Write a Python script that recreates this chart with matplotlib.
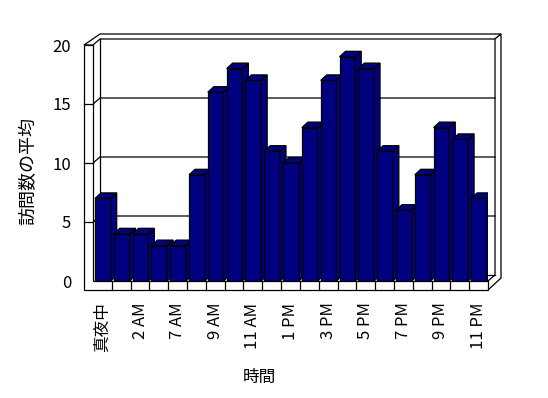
import matplotlib
matplotlib.use("Agg")
import matplotlib.pyplot as plt

plt.rcParams['font.family'] = ['Noto Sans CJK JP', 'DejaVu Sans']

# ================================
# DATA
# ================================
hours = ['真夜中', '1 AM', '2 AM', '6 AM', '7 AM', '8 AM', '9 AM', '10 AM', '11 AM', '正午',
         '1 PM', '2 PM', '3 PM', '4 PM', '5 PM', '6 PM', '7 PM', '8 PM', '9 PM', '10 PM', '11 PM']
avg_visits = [7, 4, 4, 3, 3, 9, 16, 18, 17, 11, 10, 13, 17, 19, 18, 11, 6, 9, 13, 12, 7]
y_ticks = [0, 5, 10, 15, 20]

NAVY = '#000080'
W, H = 548, 398

# front plane of the pseudo-3D plot, in pixels
left, right, bottom, top = 93, 488, 281, 45
n = len(hours)
CX = (right - left) / n        # px per category
CY = (bottom - top) / 20       # px per value unit


def P(x, y, ox=0, oy=0):
    # data point with a pixel offset (ox right, oy up)
    return (x + ox / CX, y + oy / CY)


fig = plt.figure(figsize=(W / 100, H / 100), dpi=100)
ax = fig.add_axes([left / W, 1 - bottom / H, (right - left) / W, (bottom - top) / H])
ax.set_xlim(0, n)
ax.set_ylim(0, 20)
for s in ax.spines.values():
    s.set_visible(False)

lw = 0.9
kw = dict(clip_on=False, color='black', lw=lw)

# ================================
# WALLS / FLOOR
# ================================
# back wall top face
ax.fill(*zip(P(0, 20, -9, 0), P(0, 20, 7, 11), P(n, 20, 13, 11), P(n, 20, 7, 6),
             P(0, 20, 7, 6), P(0, 20)), facecolor='white', edgecolor='black', lw=lw,
        clip_on=False, zorder=2)
# right side of back wall + floor
ax.fill(*zip(P(n, 20, 7, 6), P(n, 20, 13, 11), P(n, 0, 13, 3), P(n, 0, 0, -9),
             P(n, 0), P(n, 0, 7, 6)), facecolor='white', edgecolor='black', lw=lw,
        clip_on=False, zorder=2)
# back wall inner edges
ax.plot(*zip(P(0, 0, 7, 6), P(0, 20, 7, 6)), zorder=2, **kw)
ax.plot(*zip(P(0, 0, 7, 6), P(n, 0, 7, 6)), zorder=2, **kw)
# gridlines on back wall
for v in y_ticks[1:-1]:
    ax.plot(*zip(P(0, v), P(0, v, 7, 6), P(n, v, 7, 6)), zorder=2, **kw)

# left wall + floor front faces (L shape)
ax.fill(*zip(P(0, 20, -9, 0), P(0, 20), P(0, 0), P(n, 0), P(n, 0, 0, -9), P(0, 0, -9, -9)),
        facecolor='white', edgecolor='black', lw=lw, clip_on=False, zorder=3)
# y ticks across left wall front
for v in y_ticks[1:-1]:
    ax.plot(*zip(P(0, v, -9, 0), P(0, v)), zorder=4, **kw)
# category ticks on floor front
for i in range(1, n):
    ax.plot(*zip(P(i, 0), P(i, 0, 0, -9)), zorder=4, **kw)

# ================================
# BARS
# ================================
x0 = [i + 2 / CX for i in range(n)]
bw = 15.7 / CX
bars = ax.bar(x0, avg_visits, width=bw, align='edge', color=NAVY,
              edgecolor='black', linewidth=lw)
dx, dy = 6, 5.5
for i, (b, v) in enumerate(zip(bars, avg_visits)):
    b.set_zorder(10 + i)
    xr = x0[i] + bw
    side = [P(xr, 0), P(xr, v), P(xr, v, dx, dy), P(xr, 0, dx, dy)]
    topf = [P(x0[i], v), P(xr, v), P(xr, v, dx, dy), P(x0[i], v, dx, dy)]
    ax.fill(*zip(*side), facecolor=NAVY, edgecolor='black', lw=lw, zorder=10 + i)
    ax.fill(*zip(*topf), facecolor=NAVY, edgecolor='black', lw=lw, zorder=10 + i)

# ================================
# LABELS
# ================================
ax.set_yticks(y_ticks)
ax.set_yticklabels([str(v) for v in y_ticks], fontsize=12)
ax.set_xticks([i + 0.5 for i in range(0, n, 2)])
ax.set_xticklabels(hours[::2], rotation=90, fontsize=12, va='top')
ax.tick_params(axis='y', length=0, pad=15.8)
ax.tick_params(axis='x', length=0, pad=15.5)

fig.text(28 / W, 1 - 171 / H, '訪問数の平均', rotation=90, ha='center', va='center', fontsize=13)
fig.text(259 / W, 1 - 377 / H, '時間', ha='center', va='center', fontsize=12)

fig.savefig('out.png', dpi=100)
